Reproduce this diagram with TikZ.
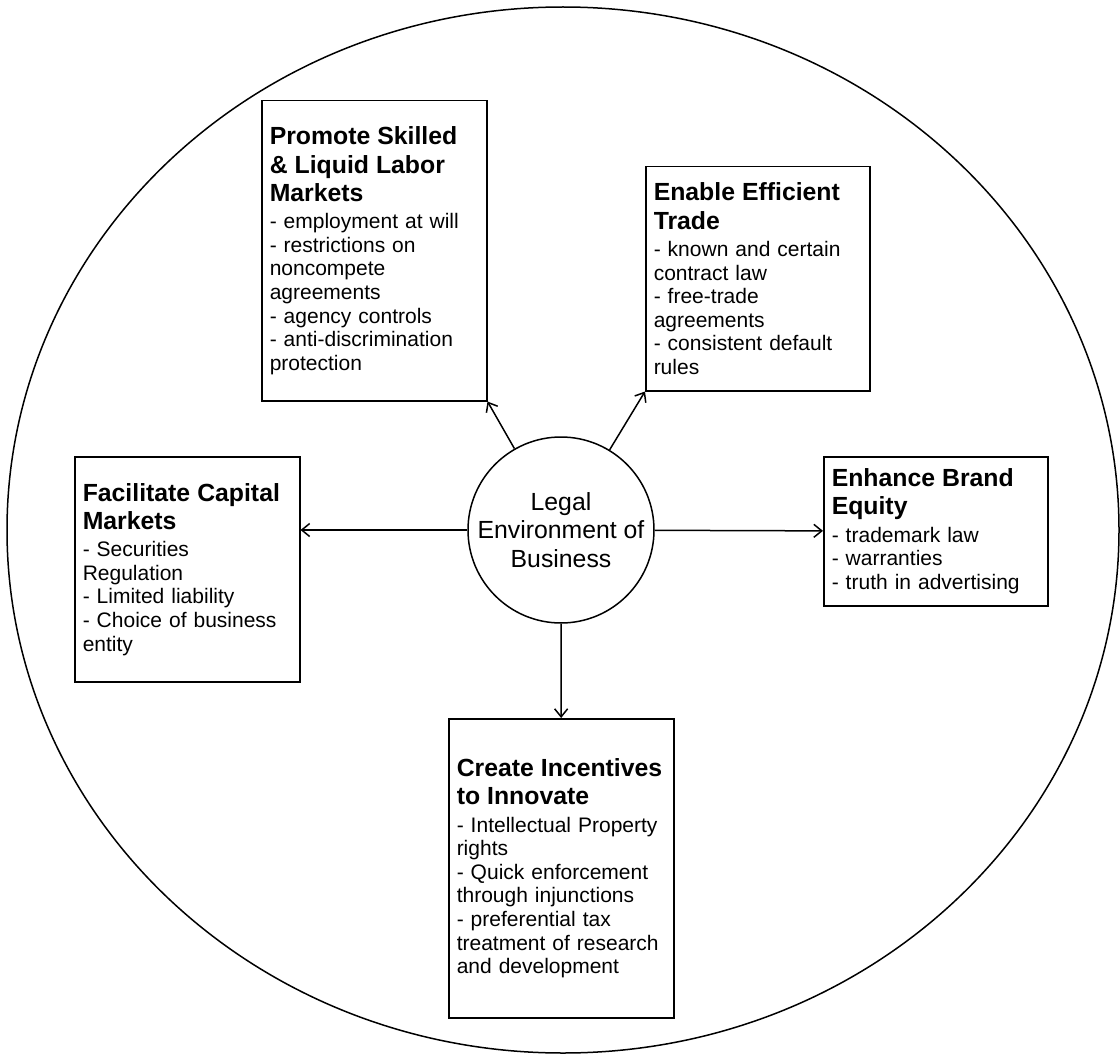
\documentclass[tikz,border=0pt]{standalone}
\usepackage{fontspec}
\setmainfont{Liberation Sans}
\usetikzlibrary{arrows.meta, positioning}
\newcommand{\headfont}{\fontsize{12.4}{14.15}\selectfont\bfseries}
\newcommand{\itemfont}{\fontsize{10.5}{11.8}\selectfont}
\tikzstyle{goal} = [rectangle, draw=black, line width=0.75pt, anchor=north west,
    inner xsep=4pt, inner ysep=0pt, text width=104.5pt, align=left, font=\itemfont]
\tikzstyle{hubnode} = [circle, draw=black, line width=0.75pt, minimum size=93pt,
    inner sep=0pt, align=center, font=\fontsize{12.4}{14.15}\selectfont]
\tikzstyle{arrow} = [line width=0.75pt, -{Straight Barb[length=4pt,width=6.5pt]}]

\begin{document}
\begin{tikzpicture}[x=0.5pt, y=-0.5pt]
    \useasboundingbox (0,0) rectangle (1120,1054);
    % outer frame
    \draw [line width=0.75pt] (563,530) ellipse [x radius=278pt, y radius=261.5pt];

    \node (hub) [hubnode] at (561,530) {Legal\\Environment of\\Business};

    \node (labor) [goal, minimum height=150pt] at (261,100)
        {{\headfont Promote Skilled\\ \& Liquid Labor\\ Markets\par}\vspace{1.9pt}
         - employment at will\\ - restrictions on\\ noncompete\\ agreements\\
         - agency controls\\ - anti-discrimination\\ protection};
    \node (trade) [goal, text width=104pt, minimum height=112pt] at (645,166)
        {{\headfont Enable Efficient\\ Trade\par}\vspace{1.9pt}
         - known and certain\\ contract law\\ - free-trade\\ agreements\\
         - consistent default\\ rules};
    \node (capital) [goal, minimum height=112.5pt] at (74,456)
        {{\headfont Facilitate Capital\\ Markets\par}\vspace{1.9pt}
         - Securities\\ Regulation\\ - Limited liability\\ - Choice of business\\ entity};
    \node (brand) [goal, text width=104pt, minimum height=74.5pt] at (823,456)
        {{\headfont Enhance Brand\\ Equity\par}\vspace{1.9pt}
         - trademark law\\ - warranties\\ - truth in advertising};
    \node (incent) [goal, minimum height=149.5pt] at (448,718)
        {{\headfont Create Incentives\\ to Innovate\par}\vspace{1.9pt}
         - Intellectual Property\\ rights\\ - Quick enforcement\\ through injunctions\\
         - preferential tax\\ treatment of research\\ and development};

    % Arrows
    \draw [arrow] (hub) -- (labor.south east);
    \draw [arrow] (hub) -- (trade.south west);
    \draw [arrow] (hub.west) -- (capital.east |- hub.west);
    \draw [arrow] (hub) -- (brand);
    \draw [arrow] (hub) -- (incent);
\end{tikzpicture}
\end{document}
